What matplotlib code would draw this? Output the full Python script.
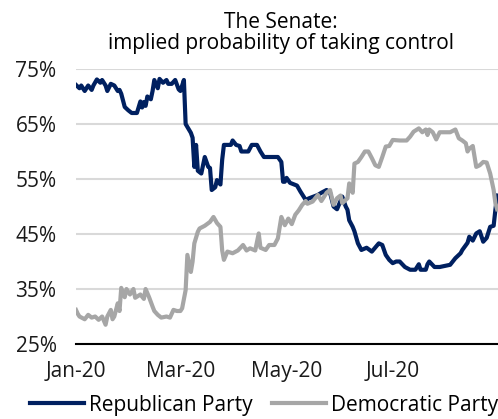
import matplotlib
matplotlib.use("Agg")
import matplotlib.pyplot as plt
import numpy as np
import pandas as pd

plt.rcParams['font.family'] = ['Open Sans', 'DejaVu Sans']

start = pd.Timestamp("2020-01-01")

# Republican Party: day offset from 1 Jan 2020 and implied probability (%)
rep_days = [0, 2, 3, 5, 7, 9, 10, 12, 14, 15, 17, 18, 20, 22, 24, 25, 26, 28, 30, 32,
            35, 37, 38, 39, 40, 41, 43, 44, 45, 47, 48, 50, 52, 53, 55, 57, 59, 60, 62, 63,
            66, 67, 68, 69, 70, 72, 74, 76, 77, 78, 80, 81, 83, 84, 85, 89, 90, 92, 94, 95,
            99, 101, 104, 106, 108, 116, 118, 119, 120, 121, 123, 127, 129, 132, 134, 139, 141, 144, 146, 148,
            150, 153, 155, 156, 157, 159, 160, 162, 164, 167, 170, 174, 176, 178, 180, 182, 184, 186, 189, 192,
            195, 197, 198, 201, 202, 203, 206, 209, 215, 218, 221, 222, 225, 226, 228, 230, 232, 234, 236, 238,
            240, 241, 242]
rep_vals = [72.1, 71.5, 72.0, 71.0, 72.0, 71.2, 72.0, 73.1, 72.5, 73.0, 72.0, 71.0, 72.3, 72.0, 71.0, 71.2, 70.5, 68.1, 67.5, 67.0,
            67.0, 69.1, 68.0, 69.0, 68.3, 70.0, 69.5, 71.0, 73.0, 71.5, 73.2, 72.5, 73.0, 72.3, 72.3, 73.0, 71.3, 71.0, 73.0, 65.0,
            63.4, 62.5, 57.2, 61.2, 56.5, 56.0, 59.0, 57.2, 57.0, 53.0, 53.5, 54.8, 54.0, 58.5, 61.2, 61.2, 62.0, 61.2, 61.0, 60.0,
            60.0, 61.2, 61.2, 60.0, 59.0, 59.0, 58.1, 54.5, 54.5, 55.2, 54.3, 53.8, 52.7, 51.2, 51.5, 52.1, 52.5, 53.0, 52.5, 50.0,
            49.5, 51.8, 50.0, 49.4, 47.5, 46.3, 45.5, 43.3, 42.1, 42.5, 41.8, 43.3, 43.0, 41.2, 40.3, 39.7, 40.0, 40.0, 39.0, 38.5,
            38.5, 39.5, 38.5, 38.5, 39.5, 40.0, 39.0, 39.0, 39.4, 40.6, 41.5, 42.1, 43.4, 44.5, 43.8, 45.1, 45.5, 43.6, 44.3, 46.3,
            46.5, 49.4, 52.0]

# Democratic Party: day offset from 1 Jan 2020 and implied probability (%)
dem_days = [0, 1, 2, 5, 7, 9, 11, 13, 15, 17, 18, 20, 21, 22, 24, 25, 26, 28, 29, 31,
            33, 34, 37, 39, 40, 42, 44, 45, 47, 49, 52, 54, 56, 58, 60, 61, 63, 64, 66, 67,
            68, 70, 71, 74, 77, 79, 81, 83, 84, 85, 87, 90, 93, 96, 98, 100, 103, 105, 106, 109,
            111, 114, 116, 118, 120, 122, 124, 126, 128, 130, 132, 133, 136, 139, 141, 144, 146, 148, 150, 152,
            153, 156, 157, 159, 160, 162, 164, 166, 168, 170, 172, 174, 176, 178, 180, 182, 186, 190, 192, 194,
            197, 199, 201, 202, 203, 205, 207, 209, 215, 218, 220, 222, 224, 225, 226, 228, 230, 232, 234, 236,
            238, 240, 241, 242]
dem_vals = [31.2, 30.5, 30.0, 29.5, 30.3, 29.8, 30.0, 29.4, 30.0, 28.5, 30.0, 31.2, 29.5, 30.0, 32.4, 31.0, 35.2, 33.5, 35.0, 34.0,
            35.0, 33.4, 34.0, 33.2, 35.0, 33.5, 31.8, 31.0, 30.3, 29.8, 30.0, 29.8, 31.2, 31.0, 31.0, 31.5, 34.8, 41.2, 38.1, 40.0,
            43.3, 45.4, 46.0, 46.5, 47.2, 48.1, 47.0, 46.3, 42.0, 40.3, 41.8, 41.5, 42.0, 43.0, 42.0, 42.4, 42.0, 45.1, 42.5, 42.1,
            43.0, 43.0, 44.2, 48.1, 46.6, 47.8, 46.8, 48.5, 49.3, 50.3, 51.0, 50.5, 50.9, 52.1, 51.0, 52.5, 53.0, 50.3, 51.5, 52.0,
            50.6, 51.5, 54.2, 52.5, 57.8, 58.1, 59.0, 60.0, 60.0, 58.8, 57.5, 57.2, 59.0, 60.9, 61.0, 62.1, 62.0, 62.0, 62.7, 63.6,
            64.2, 63.5, 64.0, 63.0, 64.0, 63.5, 62.2, 63.5, 63.5, 64.0, 62.4, 62.0, 61.5, 60.0, 60.5, 61.0, 57.2, 57.5, 58.1, 58.0,
            56.0, 53.0, 50.6, 49.5]

tick_dates = ["2020-01-01", "2020-03-01", "2020-05-01", "2020-07-01"]
tick_labels = ["Jan-20", "Mar-20", "May-20", "Jul-20"]
y_ticks = [25, 35, 45, 55, 65, 75]

navy = "#002060"
grey = "#a6a6a6"

rep_x = start + pd.to_timedelta(rep_days, unit="D")
dem_x = start + pd.to_timedelta(dem_days, unit="D")

fig = plt.figure(figsize=(4.98, 4.19), dpi=100)
ax = fig.add_axes([76 / 498, 1 - 344 / 419, 1 - 76 / 498, (344 - 69) / 419])

ax.plot(rep_x, rep_vals, color=navy, lw=3.0, label="Republican Party",
        solid_joinstyle="round", zorder=3)
ax.plot(dem_x, dem_vals, color=grey, lw=3.0, label="Democratic Party",
        solid_joinstyle="round", zorder=4)

ax.set_xlim(start, start + pd.Timedelta(days=242.5))
ax.set_ylim(25, 75)
ax.set_yticks(y_ticks)
ax.set_yticklabels([f"{v}%" for v in y_ticks])
ax.set_xticks(pd.to_datetime(tick_dates))
ax.set_xticklabels(tick_labels)

ax.grid(axis="y", color="#d9d9d9", lw=1.5, zorder=0)
ax.set_axisbelow(True)
for s in ["left", "right", "top"]:
    ax.spines[s].set_visible(False)
ax.spines["bottom"].set_color("black")
ax.spines["bottom"].set_linewidth(1.5)
ax.spines["bottom"].set_zorder(5)
ax.tick_params(axis="both", length=0, labelsize=15, colors="#1a1a1a")
ax.tick_params(axis="y", pad=14)
ax.tick_params(axis="x", pad=12)

fig.text(281 / 498, 1 - 12 / 419, "The Senate:\nimplied probability of taking control",
         ha="center", va="top", fontsize=15, linespacing=1.0, color="black")

fig.legend(loc="center left", bbox_to_anchor=(30 / 498, 1 - 405 / 419), ncol=2,
           frameon=False, fontsize=15, handlelength=2.6, handletextpad=0.25,
           columnspacing=0.9, borderaxespad=0, borderpad=0)

fig.savefig("out.png", dpi=100)
